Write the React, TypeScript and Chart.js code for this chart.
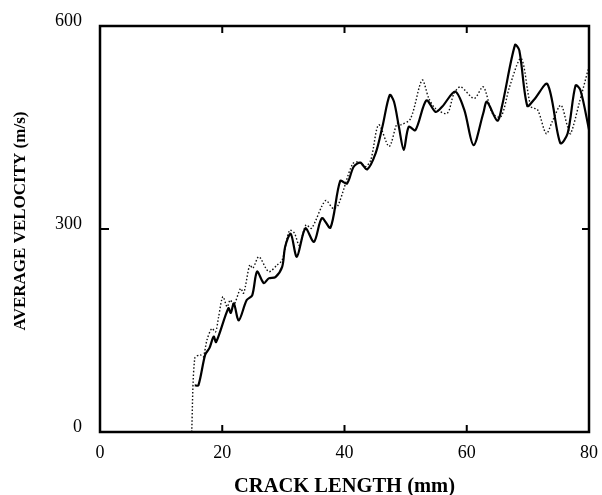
import React, { useEffect, useRef } from "react";
import { Chart, registerables } from "chart.js";

Chart.register(...registerables);

// Crack length (mm) and average velocity (m/s) — solid curve
const solidX = [15.5, 16.1, 17.2, 17.9, 18.6, 19.0, 21.0, 21.4, 21.9, 22.7, 24.0, 24.9, 25.7, 26.8, 27.6, 28.7, 29.8, 30.3, 31.2, 32.2, 33.6, 35.0, 36.3, 37.7, 39.3, 40.4, 41.5, 42.6, 43.7, 45.1, 46.2, 47.4, 48.1, 48.9, 49.7, 50.5, 51.6, 53.4, 54.9, 56.0, 58.1, 59.6, 61.1, 62.7, 63.3, 65.0, 65.8, 67.9, 68.6, 69.9, 71.0, 73.2, 75.3, 76.5, 77.8, 78.6, 80.0];
const solidV = [69, 69, 114, 124, 141, 133, 183, 176, 190, 165, 195, 202, 237, 220, 227, 229, 244, 274, 293, 259, 301, 281, 316, 302, 371, 367, 392, 398, 388, 412, 451, 498, 488, 451, 417, 451, 446, 490, 473, 481, 503, 476, 424, 471, 488, 460, 483, 572, 564, 482, 491, 514, 427, 441, 512, 505, 447];

// Dotted curve
const dottedX = [15.0, 15.5, 16.4, 16.9, 17.5, 18.3, 18.9, 19.4, 20.1, 20.8, 21.3, 21.9, 23.0, 23.5, 24.5, 25.0, 26.0, 27.6, 29.0, 29.8, 31.0, 31.8, 32.6, 33.7, 34.6, 36.9, 38.2, 39.0, 41.3, 42.3, 43.4, 44.3, 45.6, 47.3, 48.6, 49.2, 50.8, 52.7, 53.8, 54.9, 56.8, 57.9, 59.0, 61.2, 62.7, 64.2, 65.6, 67.0, 68.9, 70.5, 71.6, 73.0, 74.0, 75.4, 76.5, 77.0, 78.4, 79.9];
const dottedV = [0, 109, 114, 111, 136, 153, 148, 170, 200, 185, 195, 188, 212, 205, 247, 242, 259, 237, 247, 254, 298, 294, 276, 306, 301, 342, 330, 336, 396, 399, 392, 402, 454, 422, 456, 454, 463, 520, 493, 478, 471, 500, 510, 493, 510, 471, 466, 510, 552, 481, 476, 441, 459, 483, 451, 441, 486, 537];

const xTicks = [0, 20, 40, 60, 80];
const yTicks = [0, 300, 600];
const xTitle = "CRACK LENGTH (mm)";
const yTitle = "AVERAGE VELOCITY (m/s)";

const SERIF = "'Liberation Serif', 'Times New Roman', serif";

const framePlugin = {
  id: "frameTicks",
  afterDraw(chart: any) {
    const { ctx, chartArea: a, scales } = chart;
    const xs = scales.x;
    const ys = scales.y;
    ctx.save();
    ctx.strokeStyle = "#000";
    ctx.lineWidth = 2.5;
    ctx.strokeRect(a.left, a.top, a.right - a.left, a.bottom - a.top);
    ctx.lineWidth = 2;
    const tl = 7;
    ctx.beginPath();
    xTicks.forEach((v) => {
      const px = xs.getPixelForValue(v);
      ctx.moveTo(px, a.bottom);
      ctx.lineTo(px, a.bottom - tl);
      ctx.moveTo(px, a.top);
      ctx.lineTo(px, a.top + tl);
    });
    yTicks.forEach((v) => {
      const py = ys.getPixelForValue(v);
      ctx.moveTo(a.left, py);
      ctx.lineTo(a.left + tl + 2, py);
      ctx.moveTo(a.right, py);
      ctx.lineTo(a.right - tl, py);
    });
    ctx.stroke();

    // axis titles
    ctx.fillStyle = "#000";
    ctx.textAlign = "center";
    ctx.textBaseline = "alphabetic";
    ctx.font = `bold 20.5px ${SERIF}`;
    ctx.fillText(xTitle, (a.left + a.right) / 2, 491.5);
    ctx.translate(24.5, 221);
    ctx.rotate(-Math.PI / 2);
    ctx.font = `bold 17px ${SERIF}`;
    ctx.fillText(yTitle, 0, 0);
    ctx.restore();
  },
};

export default function App() {
  const ref = useRef<HTMLCanvasElement | null>(null);

  useEffect(() => {
    if (!ref.current) return;
    const chart = new Chart(ref.current, {
      type: "line",
      data: {
        datasets: [
          {
            label: "solid",
            data: solidX.map((x, i) => ({ x, y: solidV[i] })),
            borderColor: "#000",
            borderWidth: 2.2,
            pointRadius: 0,
            tension: 0.3,
            fill: false,
          },
          {
            label: "dotted",
            data: dottedX.map((x, i) => ({ x, y: dottedV[i] })),
            borderColor: "#111",
            borderWidth: 1.4,
            borderDash: [1.5, 2],
            pointRadius: 0,
            tension: 0.3,
            fill: false,
          },
        ],
      },
      options: {
        responsive: false,
        animation: false,
        layout: { padding: { top: 26, right: 13, left: 0, bottom: 0 } },
        plugins: { legend: { display: false }, tooltip: { enabled: false } },
        scales: {
          x: {
            type: "linear",
            min: 0,
            max: 80,
            grid: { display: false, drawTicks: false },
            border: { display: false },
            afterBuildTicks: (s: any) => {
              s.ticks = xTicks.map((v) => ({ value: v }));
            },
            afterFit: (s: any) => {
              s.height = 63;
              s.paddingLeft = 0;
              s.paddingRight = 0;
            },
            ticks: {
              color: "#000",
              padding: 10,
              maxRotation: 0,
              font: { family: SERIF, size: 18 },
            },
          },
          y: {
            type: "linear",
            min: 0,
            max: 600,
            grid: { display: false, drawTicks: false },
            border: { display: false },
            afterBuildTicks: (s: any) => {
              s.ticks = yTicks.map((v) => ({ value: v }));
            },
            afterFit: (s: any) => {
              s.width = 100;
              s.paddingTop = 0;
              s.paddingBottom = 0;
            },
            ticks: {
              color: "#000",
              padding: 18,
              labelOffset: -4.5,
              font: { family: SERIF, size: 18 },
            },
          },
        },
      },
      plugins: [framePlugin],
    });
    return () => chart.destroy();
  }, []);

  return (
    <div style={{ position: "fixed", left: 0, top: 0, width: 602, height: 495, background: "#fff" }}>
      <canvas ref={ref} width={602} height={495} />
    </div>
  );
}
